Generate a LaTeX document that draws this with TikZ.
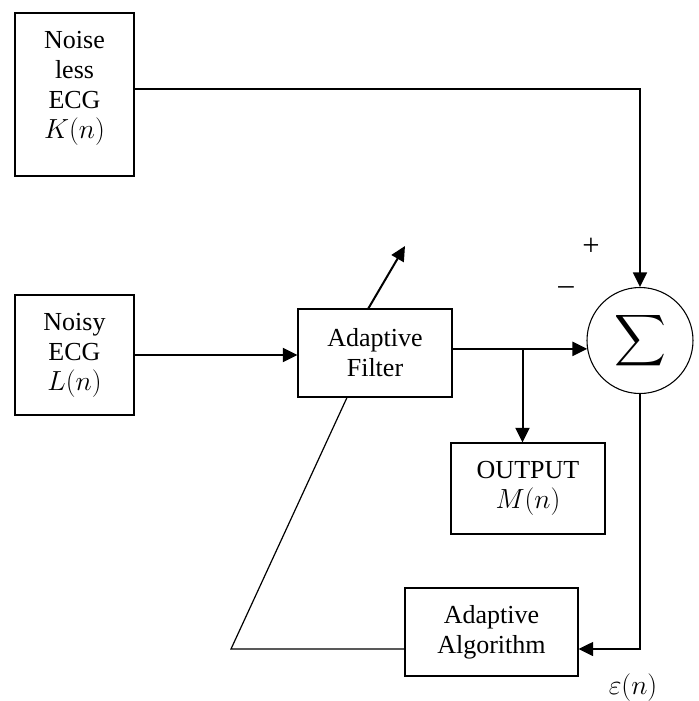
\documentclass[tikz,border=0pt]{standalone}
\usepackage{amsmath}
\usepackage{fontspec}
\setmainfont{Liberation Serif}
\usetikzlibrary{arrows.meta}

\begin{document}
\begin{tikzpicture}[
    x=0.75pt,y=-0.75pt,
    box/.style={rectangle,draw=black,line width=0.8pt,align=center,inner sep=0pt},
    arr/.style={line width=1.5pt,-{Triangle[length=11pt,width=10.5pt]}},
    wire/.style={line width=0.9pt},
    ]
    \useasboundingbox (0,0) rectangle (699,701);
    \fontsize{19.5}{22.5}\selectfont
    % blocks
    \node[box,minimum width=89.25pt,minimum height=122.25pt,text depth=14pt] (clean) at (74.5,94.5) {Noise\\less\\ECG\\$K(n)$};
    \node[box,minimum width=89.25pt,minimum height=90pt] (noisy) at (74.5,355) {Noisy\\ECG\\$L(n)$};
    \node[box,minimum width=115.5pt,minimum height=66pt] (filter) at (375,353) {Adaptive\\Filter};
    \node[circle,draw=black,line width=0.8pt,minimum size=79.5pt,inner sep=0pt] (sum) at (640,340.5) {\scalebox{1.3}{$\displaystyle\sum$}};
    \node[box,minimum width=115.5pt,minimum height=68.25pt] (out) at (528,488.5) {OUTPUT\\$M(n)$};
    \node[box,minimum width=129.75pt,minimum height=66pt] (algo) at (491.5,632) {Adaptive\\Algorithm};
    % signs and error label
    \node (plus) at (591,247) {\fontsize{23}{23}\selectfont +};
    \node (minus) at (566,291) {\fontsize{23}{23}\selectfont --};
    \node (err) at (633,688) {$\varepsilon(n)$};
    \coordinate (adj) at (405,246);
    \coordinate (corner) at (231,649);
    % connectors
    \draw[arr,line width=1.3pt] ([yshift=4pt]clean.east) -| (sum.north);
    \draw[arr] (noisy.east) -- (noisy.east -| filter.west);
    \path (filter.east |- sum.189) -- coordinate[pos=0.52] (split) (sum.189);
    \draw[arr] (filter.east |- sum.189) -- (sum.189);
    \draw[arr] (split) -- (split |- out.north);
    \draw[arr] ([xshift=-5pt]filter.north) -- (adj);
    \draw[arr,line width=1.2pt] (sum.south) |- ([yshift=-12.75pt]algo.east);
    \draw[wire] ([xshift=-21pt]filter.south) -- (corner) -- ([yshift=-12.75pt]algo.west);
\end{tikzpicture}
\end{document}
